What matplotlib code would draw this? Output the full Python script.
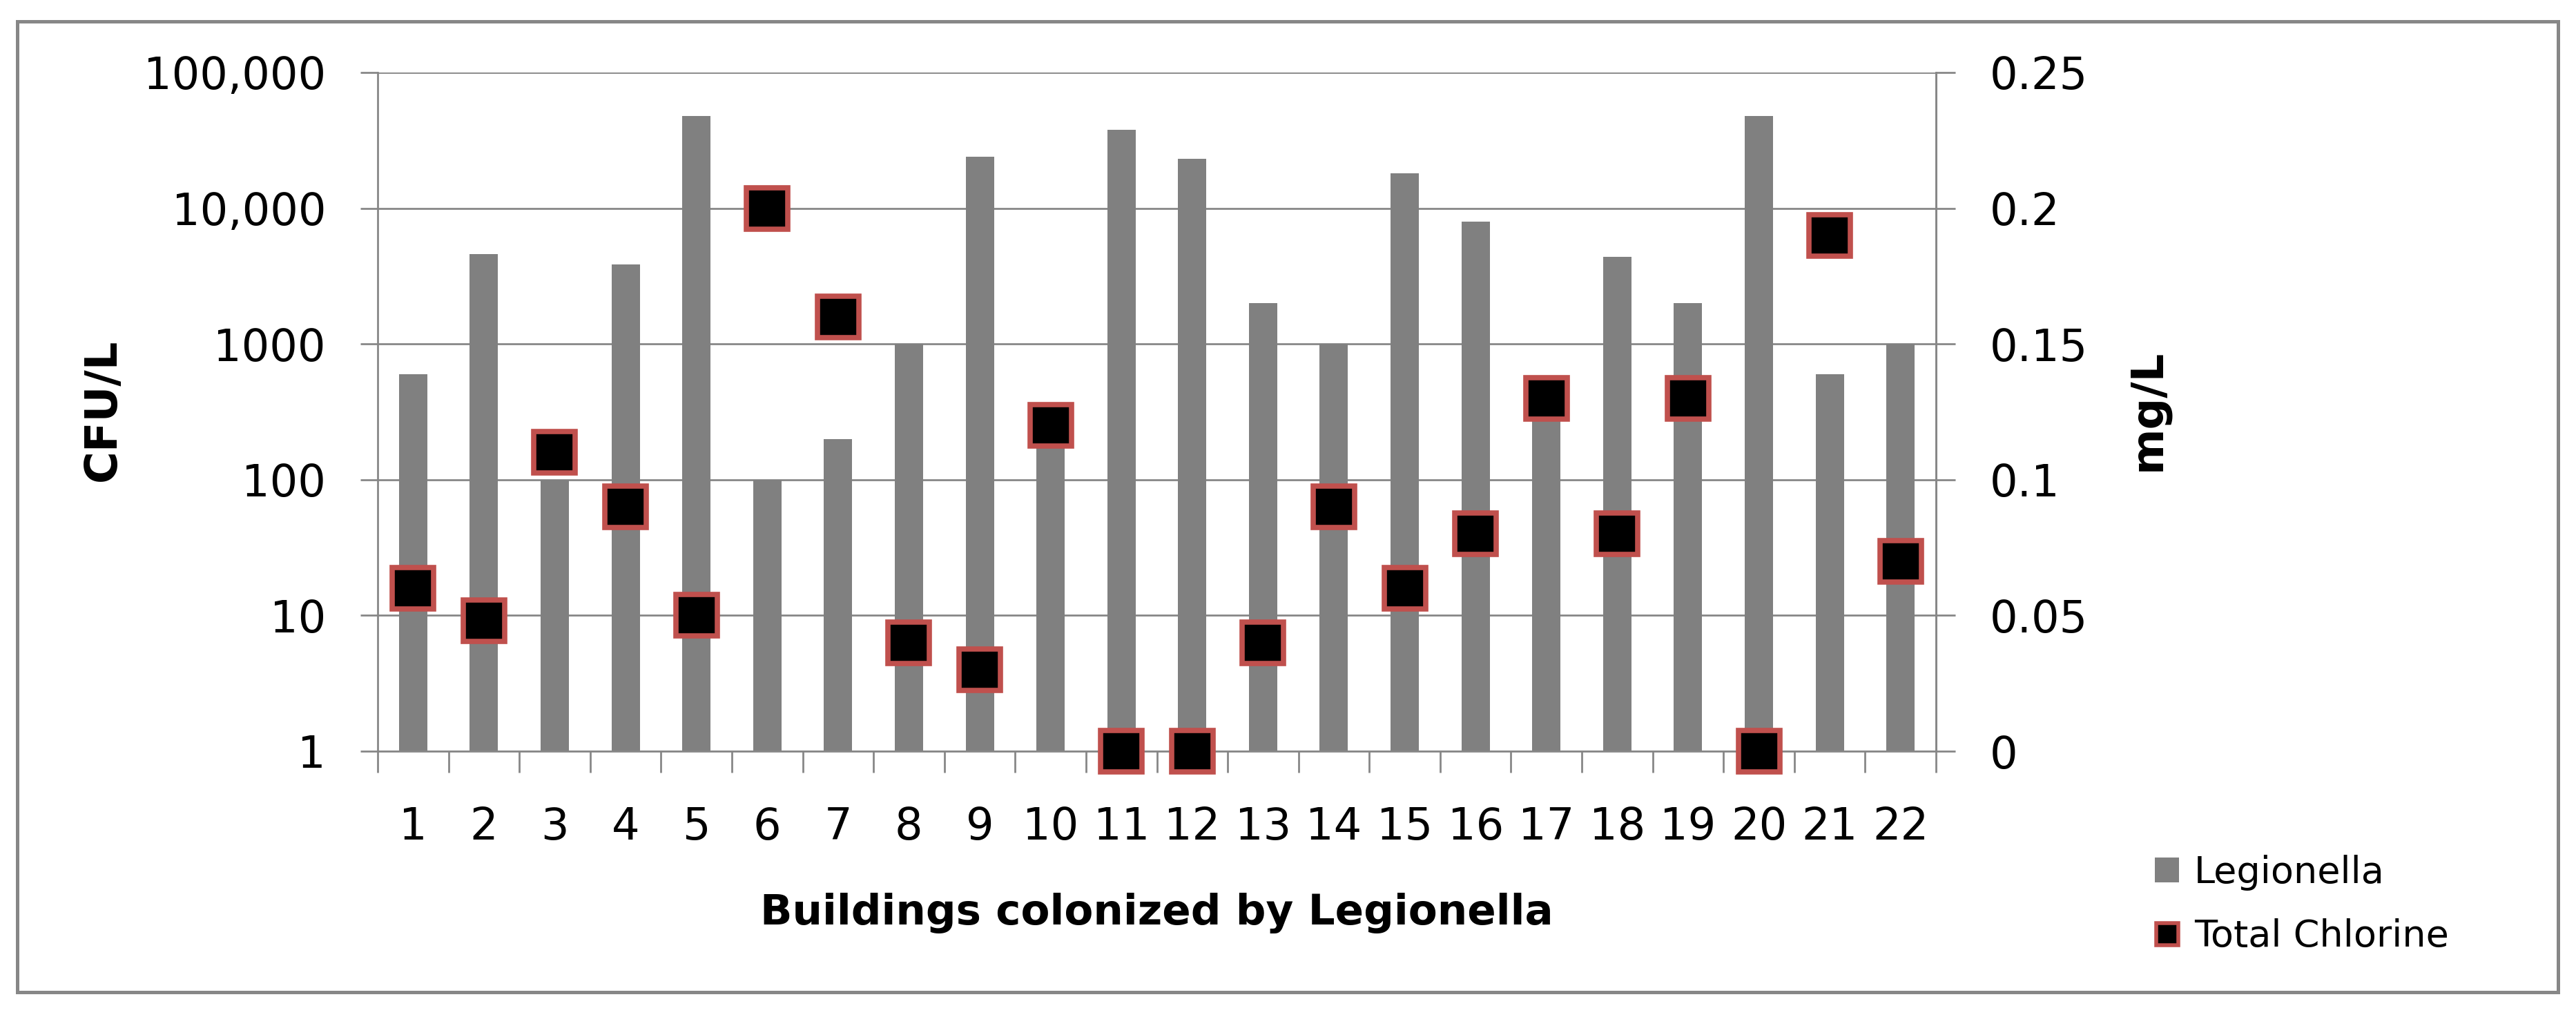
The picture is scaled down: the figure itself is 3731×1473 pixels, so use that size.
import numpy as np
import matplotlib
matplotlib.use("Agg")
import matplotlib.pyplot as plt
from matplotlib.patches import Patch, Rectangle
from matplotlib.lines import Line2D

buildings = [str(i) for i in range(1, 23)]
legionella = [600, 4600, 100, 3850, 48000, 100, 200, 1000, 24000, 200, 38000,
              23000, 2000, 1000, 18000, 8000, 300, 4400, 2000, 48000, 600, 1000]
chlorine = [0.06, 0.048, 0.11, 0.09, 0.05, 0.20, 0.16, 0.04, 0.03, 0.12, 0.0,
            0.0, 0.04, 0.09, 0.06, 0.08, 0.13, 0.08, 0.13, 0.0, 0.19, 0.07]
left_ticks = [1, 10, 100, 1000, 10000, 100000]
left_labels = ["1", "10", "100", "1000", "10,000", "100,000"]
right_ticks = [0, 0.05, 0.1, 0.15, 0.2, 0.25]
right_labels = ["0", "0.05", "0.1", "0.15", "0.2", "0.25"]

W, H = 3731, 1473
DPI = 100
fig = plt.figure(figsize=(W / DPI, H / DPI), dpi=DPI)
plt.rcParams['font.family'] = ['DejaVu Sans']

grey = "#878787"
bar_col = "#808080"
red = "#C0504D"

top_px, bot_px = 105, 1088
ax = fig.add_axes([547 / W, 1 - bot_px / H, (2804 - 547) / W, (bot_px - top_px) / H])
ax.set_zorder(1)
x = np.arange(len(buildings))
ax.bar(x, legionella, width=0.4, color=bar_col, zorder=2)
ax.set_yscale("log")
ax.set_ylim(1, 100000)
ax.set_xlim(-0.5, len(buildings) - 0.5)
ax.set_yticks(left_ticks)
ax.set_yticklabels(left_labels)
ax.yaxis.set_minor_locator(matplotlib.ticker.NullLocator())
ax.grid(axis="y", color=grey, linewidth=2.0, zorder=0)
ax.set_axisbelow(True)

ax.set_xticks(np.arange(-0.5, len(buildings), 1))
ax.set_xticklabels([])
ax.set_xticks(x, minor=True)
ax.set_xticklabels(buildings, minor=True)
ax.tick_params(axis="x", which="major", direction="out", length=22, width=2.0, color=grey)
ax.tick_params(axis="x", which="minor", length=0, pad=57, labelsize=46)
ax.tick_params(axis="y", direction="out", length=18, width=2.0, color=grey, pad=36, labelsize=46)
for s in ["left", "bottom", "right"]:
    ax.spines[s].set_color(grey)
    ax.spines[s].set_linewidth(2.0)
ax.spines["top"].set_visible(False)

ax2 = ax.twinx()
ax2.set_ylim(0, 0.25)
ax2.set_yticks(right_ticks)
ax2.set_yticklabels(right_labels)
ax2.plot(x, chlorine, linestyle="none", marker="s", markersize=43,
         markerfacecolor="black", markeredgecolor=red, markeredgewidth=5.5,
         clip_on=False, zorder=5)
ax2.tick_params(axis="y", direction="out", length=20, width=2.0, color=grey, pad=36, labelsize=46)
for s in ["left", "bottom", "right", "top"]:
    ax2.spines[s].set_visible(False)
ax2.spines["right"].set_visible(True)
ax2.spines["right"].set_color(grey)
ax2.spines["right"].set_linewidth(2.0)

fig.text(149 / W, 1 - 594 / H, "CFU/L", rotation=90, ha="center", va="center",
         fontsize=46, fontweight="bold")
fig.text(3111 / W, 1 - 594 / H, "mg/L", rotation=90, ha="center", va="center",
         fontsize=46, fontweight="bold")
fig.text(1675 / W, 1 - 1323 / H, "Buildings colonized by Legionella", ha="center",
         va="center", fontsize=44, fontweight="bold")

handles = [Patch(facecolor=bar_col, edgecolor="none", label="Legionella"),
           Line2D([], [], linestyle="none", marker="s", markersize=23,
                  markerfacecolor="black", markeredgecolor=red, markeredgewidth=4,
                  label="Total Chlorine")]
fig.legend(handles=handles, loc="center left", bbox_to_anchor=(3094 / W, 1 - 1310 / H),
           frameon=False, fontsize=39, handlelength=0.65, handleheight=0.65,
           handletextpad=0.4, labelspacing=0.75, borderpad=0)

fig.patches.append(Rectangle((25 / W, 1 - 1437 / H), (3705 - 25) / W, (1437 - 31) / H,
                             transform=fig.transFigure, fill=False, edgecolor=grey,
                             linewidth=3.6))

fig.savefig("out.png", dpi=DPI)
